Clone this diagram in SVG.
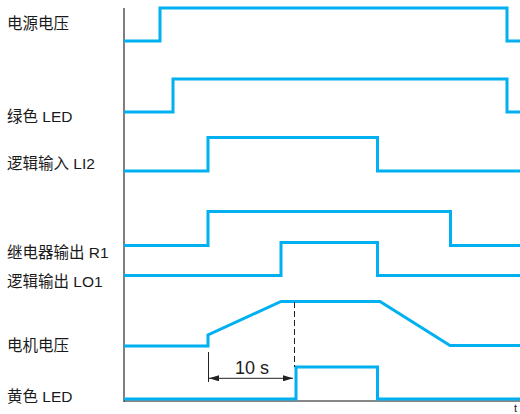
<svg xmlns="http://www.w3.org/2000/svg" width="520" height="414" viewBox="0 0 520 414">
<defs>
<style>
.sig{fill:none;stroke:#00B0F0;stroke-width:3;stroke-linejoin:miter}
.lbl{font-family:"Liberation Sans","Noto Sans CJK SC",sans-serif;font-size:15.5px;fill:#1a1a1a}
.ax{stroke:#555;stroke-width:1.5;fill:none}
.dim{stroke:#222;stroke-width:1;fill:none}
</style>
<marker id="ah" viewBox="0 0 10 6" refX="10" refY="3" markerWidth="10" markerHeight="6" orient="auto-start-reverse" markerUnits="userSpaceOnUse">
<path d="M0,0 L10,3 L0,6 Z" fill="#222"/>
</marker>
</defs>
<rect width="520" height="414" fill="#fff"/>
<g id="labels">
<text class="lbl" x="7" y="29">电源电压</text>
<text class="lbl" x="7" y="122">绿色 LED</text>
<text class="lbl" x="7" y="169">逻辑输入 LI2</text>
<text class="lbl" x="7" y="258">继电器输出 R1</text>
<text class="lbl" x="7" y="287">逻辑输出 LO1</text>
<text class="lbl" x="7" y="351">电机电压</text>
<text class="lbl" x="7" y="402">黄色 LED</text>
</g>
<g id="axes">
<line class="ax" x1="124" y1="8" x2="124" y2="402"/>
<line x1="124" y1="401" x2="520" y2="401" stroke="#111" stroke-width="1.2"/>
<text x="514" y="412" font-family="Liberation Sans,sans-serif" font-size="11" fill="#222">t</text>
</g>
<g id="connectors">
<path id="s1" class="sig" d="M124,41 H160 V8 H507 V41 H520"/>
<path id="s2" class="sig" d="M124,112 H173 V79 H507 V112 H520"/>
<path id="s3" class="sig" d="M124,171 H208 V137.5 H377.5 V171 H520"/>
<path id="s4" class="sig" d="M124,245.5 H208 V211.5 H450.5 V245.5 H520"/>
<path id="s5" class="sig" d="M124,275.5 H281 V242.5 H377.5 V275.5 H520"/>
<path id="s6" class="sig" d="M124,346 H208 V335 L281,301.5 H380 L450,345.5 H520"/>
<path id="s7" class="sig" d="M124,399 H296 V367 H377.5 V399 H520"/>
<line class="dim" x1="294.5" y1="302" x2="294.5" y2="367" stroke-dasharray="6,3"/>
<line class="dim" x1="208.5" y1="352" x2="208.5" y2="382"/>
<line class="dim" x1="209" y1="378.3" x2="293" y2="378.3" marker-start="url(#ah)" marker-end="url(#ah)"/>
<text x="252" y="374" text-anchor="middle" font-family="Liberation Sans,sans-serif" font-size="18" fill="#1a1a1a">10 s</text>
</g>
</svg>
